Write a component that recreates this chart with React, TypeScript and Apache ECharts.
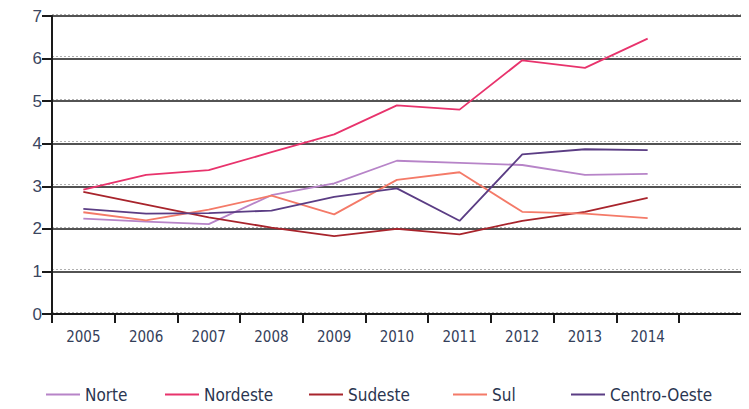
import React, { useEffect, useRef } from "react";
import * as echarts from "echarts";

const years = ["2005", "2006", "2007", "2008", "2009", "2010", "2011", "2012", "2013", "2014"];
const yTicks = [0, 1, 2, 3, 4, 5, 6, 7];

const norte = [2.24, 2.17, 2.11, 2.79, 3.07, 3.6, 3.55, 3.5, 3.27, 3.29];
const nordeste = [2.92, 3.27, 3.38, 3.8, 4.22, 4.9, 4.8, 5.96, 5.78, 6.47];
const sudeste = [2.87, 2.57, 2.27, 2.03, 1.83, 2.0, 1.87, 2.19, 2.4, 2.73];
const sul = [2.39, 2.2, 2.45, 2.78, 2.34, 3.15, 3.33, 2.4, 2.36, 2.25];
const centroOeste = [2.47, 2.36, 2.37, 2.43, 2.75, 2.95, 2.19, 3.75, 3.87, 3.85];

const seriesNames = ["Norte", "Nordeste", "Sudeste", "Sul", "Centro-Oeste"];
const seriesData = [norte, nordeste, sudeste, sul, centroOeste];
const colors = ["#b784c8", "#e8336c", "#a8242c", "#f47a68", "#5b3d84"];
const legendLeft = [46, 165, 309, 453, 571];

export default function App() {
  const ref = useRef<HTMLDivElement>(null);
  useEffect(() => {
    if (!ref.current) return;
    const chart = echarts.init(ref.current, null, { renderer: "svg" });
    const yMin = yTicks[0];
    const yMax = yTicks[yTicks.length - 1];
    const textFont = "'Liberation Sans Narrow', 'DejaVu Sans Condensed', 'Liberation Sans', sans-serif";
    chart.setOption({
      animation: false,
      backgroundColor: "#ffffff",
      grid: [
        { left: 52, top: 16, right: 0, height: 298 },
        { left: 52, top: 14, right: 0, height: 298 },
        { left: 52, top: 16, width: 627, height: 298 },
      ],
      xAxis: [
        {
          gridIndex: 0, type: "value", min: 0, max: 1,
          axisLine: { show: true, lineStyle: { color: "#1a1a1a", width: 2 } },
          axisTick: { show: false }, axisLabel: { show: false }, splitLine: { show: false },
        },
        {
          gridIndex: 1, type: "value", min: 0, max: 1, show: false,
        },
        {
          gridIndex: 2, type: "category", data: years, boundaryGap: true,
          axisLine: { show: true, lineStyle: { color: "#1a1a1a", width: 2 } },
          axisTick: { show: true, length: 9, lineStyle: { color: "#1a1a1a", width: 2 } },
          axisLabel: { color: "#34405a", fontSize: 15, fontFamily: textFont, margin: 15 },
          splitLine: { show: false },
        },
      ],
      yAxis: [
        {
          gridIndex: 0, type: "value", min: yMin, max: yMax, interval: 1,
          axisLine: { show: false }, axisTick: { show: false }, axisLabel: { show: false },
          splitLine: { show: true, lineStyle: { color: "#1a1a1a", width: 1.6 } },
        },
        {
          gridIndex: 1, type: "value", min: yMin, max: yMax, interval: 1,
          axisLine: { show: false }, axisTick: { show: false }, axisLabel: { show: false },
          splitLine: { show: true, lineStyle: { color: "#b0b0b0", width: 1, type: [2, 2] } },
        },
        {
          gridIndex: 2, type: "value", min: yMin, max: yMax, interval: 1,
          axisLine: { show: true, lineStyle: { color: "#1a1a1a", width: 2 } },
          axisTick: { show: true, length: 10, lineStyle: { color: "#1a1a1a", width: 2 } },
          axisLabel: { color: "#3b4660", fontSize: 17, fontFamily: "'Liberation Sans', Arial, sans-serif", margin: 10 },
          splitLine: { show: false },
        },
      ],
      legend: seriesNames.map((n, i) => ({
        data: [n],
        left: legendLeft[i],
        top: 386,
        padding: 0,
        icon: "rect",
        itemWidth: 34,
        itemHeight: 2,
        itemGap: 0,
        textStyle: { color: "#2a3550", fontSize: 17, fontFamily: textFont },
      })),
      series: seriesNames.map((n, i) => ({
        name: n,
        type: "line",
        xAxisIndex: 2,
        yAxisIndex: 2,
        data: seriesData[i],
        symbol: "none",
        lineStyle: { color: colors[i], width: 1.8 },
        itemStyle: { color: colors[i] },
        z: 3,
      })),
    });
    return () => chart.dispose();
  }, []);
  return <div ref={ref} style={{ width: 749, height: 409, margin: -8 }} />;
}
